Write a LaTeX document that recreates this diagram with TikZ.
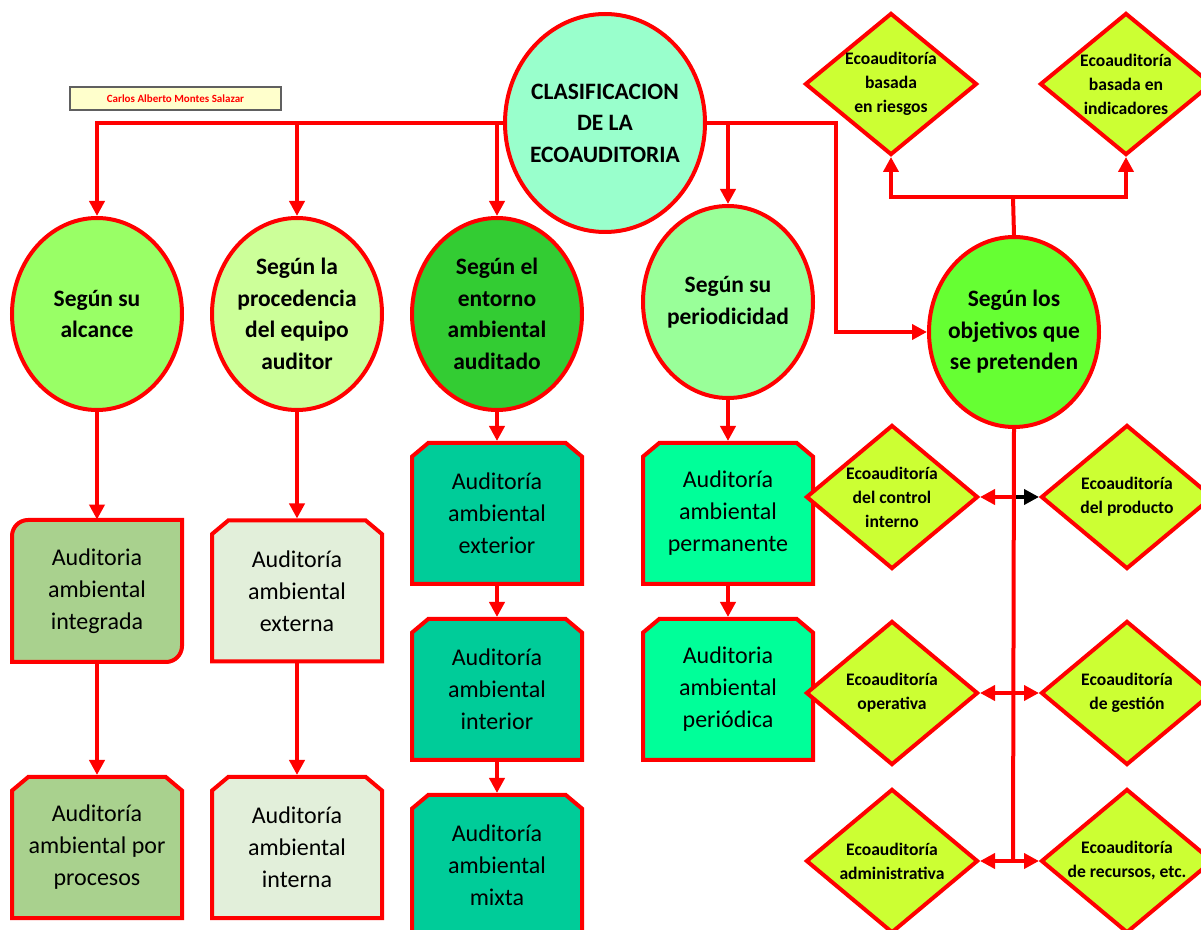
\documentclass[tikz,border=0pt]{standalone}
\usepackage{fontspec}
\setmainfont{Carlito}
\usetikzlibrary{shapes.geometric,shapes.misc,arrows.meta}
\definecolor{tmint}{HTML}{99FFCC}
\definecolor{cA}{HTML}{99FF66}
\definecolor{cB}{HTML}{CCFF99}
\definecolor{cC}{HTML}{33CC33}
\definecolor{cD}{HTML}{99FF99}
\definecolor{cE}{HTML}{66FF33}
\definecolor{gA}{HTML}{A9D18E}
\definecolor{gB}{HTML}{E2EFDA}
\definecolor{gC}{HTML}{00CC99}
\definecolor{gD}{HTML}{00FF99}
\definecolor{dY}{HTML}{CCFF33}
\definecolor{authfill}{HTML}{FFFFCC}
\begin{document}
\begin{tikzpicture}[x=0.5pt,y=-0.5pt,
  circ/.style={ellipse, draw=red, line width=2pt, inner sep=0pt, minimum width=85pt, minimum height=96pt},
  ctext/.style={font=\bfseries\fontsize{11.75}{15.75}\selectfont, align=center, text=black},
  dtext/.style={font=\bfseries\fontsize{8.8}{12}\selectfont, align=center, text=black},
  dia/.style={diamond, draw=red, line width=2pt, fill=dY, inner sep=0pt, minimum width=86pt, minimum height=72pt},
  boxline/.style={draw=red, line width=2pt},
  boxtext/.style={font=\fontsize{12}{16}\selectfont, align=center, text=black},
  chbox/.style={chamfered rectangle, chamfered rectangle corners={north west,north east}, chamfered rectangle angle=50, chamfered rectangle xsep=3.7pt, chamfered rectangle ysep=3.7pt, boxline, boxtext, inner sep=0pt, minimum width=85pt, minimum height=70.5pt},
  conn/.style={draw=red, line width=2pt},
  arr/.style={conn, -{Triangle[length=7.5pt,width=7.5pt]}},
  arrk/.style={draw=black, line width=2pt, -{Triangle[length=7.5pt,width=7.5pt]}}
]
\useasboundingbox (0,0) rectangle (1201,930);
\clip (0,0) rectangle (1201,930);

% author box
\node[draw={rgb,255:red,96;green,96;blue,96}, line width=0.6pt, fill=authfill, minimum width=105.5pt, minimum height=11.5pt, inner sep=0pt, font=\bfseries\fontsize{5.5}{6}\selectfont, text=red] (auth) at (175.5,98.5) {Carlos Alberto Montes Salazar};

% title
\node[circ, fill=tmint, minimum width=100pt, minimum height=109pt, label={[ctext]center:{CLASIFICACION\\DE LA\\ECOAUDITORIA}}] (title) at (605,123) {};

% second row circles
\node[circ, fill=cA, label={[ctext]center:{Según su\\alcance}}] (c1) at (97,314) {};
\node[circ, fill=cB, label={[ctext]center:{Según la\\procedencia\\del equipo\\auditor}}] (c2) at (297,314) {};
\node[circ, fill=cC, label={[ctext]center:{Según el\\entorno\\ambiental\\auditado}}] (c3) at (497,314) {};
\node[circ, fill=cD, label={[ctext]center:{Según su\\periodicidad}}] (c4) at (728,302) {};
\node[circ, fill=cE, minimum height=95pt, label={[ctext]center:{Según los\\objetivos que\\se pretenden}}] (c5) at (1014,332) {};

% column 1
\filldraw[boxline, fill=gA] (12,662) -- (12,536) .. controls (12,527.2) and (19.2,520) .. (28,520) -- (182,520) -- (182,646) .. controls (182,654.8) and (174.8,662) .. (166,662) -- cycle;
\node[boxtext, minimum width=85pt, minimum height=71pt, inner sep=0pt] (b11) at (97,591) {Auditoria\\ambiental\\integrada};
\node[chbox, fill=gA] (b12) at (97,847.5) {Auditoría\\ambiental por\\procesos};

% column 2
\node[chbox, fill=gB] (b21) at (297,591) {Auditoría\\ambiental\\externa};
\node[chbox, fill=gB] (b22) at (297,847.5) {Auditoría\\ambiental\\interna};

% column 3
\node[chbox, fill=gC] (b31) at (497,513.5) {Auditoría\\ambiental\\exterior};
\node[chbox, fill=gC] (b32) at (497,689.5) {Auditoría\\ambiental\\interior};
\node[chbox, fill=gC] (b33) at (497,865.5) {Auditoría\\ambiental\\mixta};

% column 4
\node[chbox, fill=gD] (b41) at (728,513.5) {Auditoría\\ambiental\\permanente};
\node[chbox, fill=gD] (b42) at (728,689.5) {Auditoria\\ambiental\\periódica};

% diamonds
\node[dia, minimum height=71pt, label={[dtext]center:{Ecoauditoría\\basada\\en riesgos}}] (dA) at (891,84) {};
\node[dia, minimum height=71pt, label={[dtext]center:{Ecoauditoría\\basada en\\indicadores}}] (dB) at (1126,84) {};
\node[dia, label={[dtext]center:{Ecoauditoría\\del control\\interno}}] (dL1) at (892,497) {};
\node[dia, label={[dtext]center:{Ecoauditoría\\del producto}}] (dR1) at (1127,497) {};
\node[dia, label={[dtext]center:{Ecoauditoría\\operativa}}] (dL2) at (892,693) {};
\node[dia, label={[dtext]center:{Ecoauditoría\\de gestión}}] (dR2) at (1127,693) {};
\node[dia, label={[dtext]center:{Ecoauditoría\\administrativa}}] (dL3) at (892,861) {};
\node[dia, label={[dtext]center:{Ecoauditoría\\de recursos, etc.}}] (dR3) at (1127,861) {};

% connectors from title
\draw[arr] (title.west) -| (c1.north);
\draw[arr] (c2.north |- title.west) -- (c2.north);
\draw[arr] (c3.north |- title.west) -- (c3.north);
\coordinate (rt) at (836,123);
\draw[arr] (title.east) -- (rt) |- (c5.west);
\draw[arr] (c4.north |- title.east) -- (c4.north);

% columns
\draw[arr] (c1.south) -- (b11.north);
\draw[arr] (b11.south) -- (b12.north);
\draw[arr] (c2.south) -- (b21.north);
\draw[arr] (b21.south) -- (b22.north);
\draw[arr] (c3.south) -- (b31.north);
\draw[arr] (b31.south) -- (b32.north);
\draw[arr] (b32.south) -- (b33.north);
\draw[arr] (c4.south) -- (b41.north);
\draw[arr] (b41.south) -- (b42.north);

% top diamonds
\coordinate (tj) at (1013,197);
\draw[conn] (c5.north) -- (tj);
\draw[arr] (tj) -| (dA.south);
\draw[arr] (tj) -| (dB.south);

% trunk
\coordinate (bt) at (1013,861);
\draw[conn] (c5.south) -- (bt);
\draw[arr] (bt |- dL1.east) -- (dL1.east);
\draw[arrk] ([xshift=1.5pt]bt |- dR1.west) -- (dR1.west);
\draw[arr] (bt |- dL2.east) -- (dL2.east);
\draw[arr] (bt |- dR2.west) -- (dR2.west);
\draw[arr] (bt) -- (dL3.east);
\draw[arr] (bt) -- (dR3.west);
\end{tikzpicture}
\end{document}
